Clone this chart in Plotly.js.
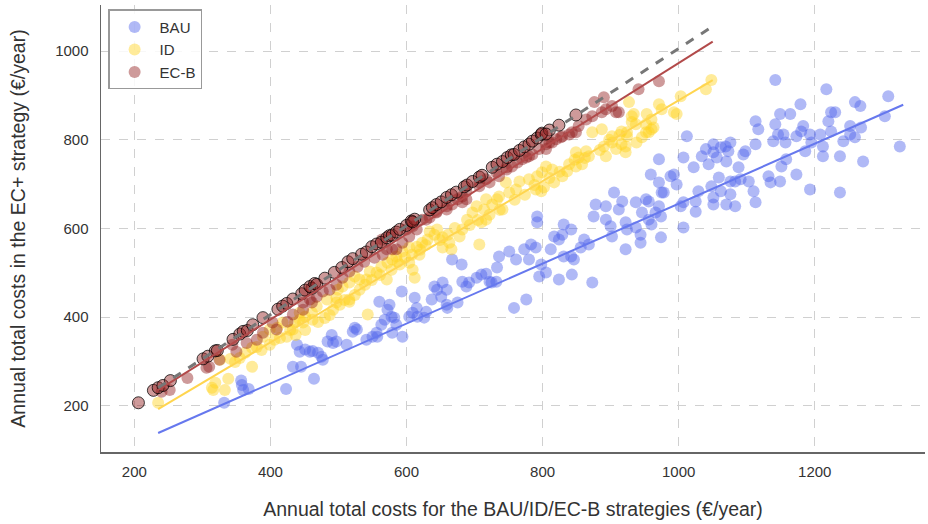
<!DOCTYPE html>
<html>
<head>
<meta charset="utf-8">
<script src="https://cdn.plot.ly/plotly-3.0.1.min.js"></script>
<style>html,body{margin:0;padding:0;background:#fff;}#chart{width:928px;height:524px;}</style>
</head>
<body>
<div id="chart"></div>
<script>
// ---- data ----
const seriesNames = ["BAU", "ID", "EC-B"];

// BAU: [cost under BAU, cost under EC+]
const bauPts = [[332,207],[357,257],[358,247],[360,236],[368,238],[423,238],[433,288],[445,288],[464,261],[439,338],
[443,322],[451,327],[458,322],[462,324],[470,320],[477,304],[475,311],[490,360],[484,345],[492,342],
[497,345],[512,338],[521,367],[527,372],[524,376],[541,349],[550,356],[557,356],[556,365],[560,435],
[575,428],[572,417],[578,401],[568,394],[563,383],[582,399],[585,383],[579,365],[594,356],[593,458],
[612,444],[615,421],[609,410],[604,401],[616,401],[626,399],[629,412],[637,440],[641,469],[645,462],
[653,478],[659,462],[651,446],[659,428],[660,421],[675,433],[667,530],[681,519],[682,480],[688,469],
[692,478],[703,489],[710,496],[717,498],[722,480],[732,480],[733,512],[758,421],[776,440],[725,478],
[736,537],[751,548],[761,530],[773,553],[783,564],[780,530],[790,557],[798,519],[795,492],[805,501],
[812,553],[824,485],[831,537],[831,609],[829,586],[817,582],[824,575],[842,598],[843,496],[842,537],
[846,530],[856,557],[861,575],[868,564],[873,478],[875,627],[878,654],[893,650],[893,620],[900,605],
[902,582],[905,681],[912,643],[917,661],[922,614],[922,553],[924,598],[937,659],[937,602],[944,586],
[944,568],[946,636],[952,666],[956,661],[956,620],[959,722],[960,609],[966,636],[971,650],[971,704],
[975,681],[974,580],[993,722],[997,699],[971,756],[1007,602],[974,627],[978,681],[988,718],[1003,650],
[1007,659],[1025,638],[1025,661],[1029,684],[1007,760],[1022,738],[1012,808],[1034,763],[1040,779],[1044,745],
[1051,790],[1051,772],[1056,760],[1062,783],[1069,785],[1070,751],[1073,774],[1076,794],[1076,706],[1048,695],
[1051,670],[1051,654],[1059,715],[1062,684],[1070,654],[1076,677],[1083,650],[1083,706],[1088,738],[1091,711],
[1095,767],[1098,774],[1103,706],[1110,684],[1113,790],[1113,659],[1113,842],[1117,824],[1132,718],[1135,704],
[1139,797],[1142,835],[1149,858],[1146,812],[1149,706],[1151,740],[1154,812],[1157,794],[1158,756],[1164,858],
[1173,722],[1179,880],[1173,808],[1183,831],[1180,819],[1186,774],[1193,688],[1195,794],[1193,812],[1208,812],
[1212,785],[1212,763],[1217,914],[1220,842],[1224,862],[1230,862],[1224,819],[1237,763],[1237,681],[1242,797],
[1252,831],[1252,812],[1259,806],[1259,885],[1267,876],[1271,751],[1268,828],[1303,853],[1308,898],[1325,785],
[1142,935],[792,627],[792,614]];

// ID
const idPts = [[235,207],[316,236],[333,236],[338,261],[319,252],[314,241],[373,288],[341,306],[348,299],[355,308],
[326,304],[363,320],[373,331],[380,333],[389,356],[399,372],[410,376],[418,388],[424,356],[433,372],
[436,388],[443,394],[451,401],[461,410],[468,424],[443,410],[448,388],[462,394],[492,417],[497,433],
[516,435],[543,406],[483,440],[497,444],[499,462],[516,440],[506,469],[516,478],[524,492],[531,485],
[541,485],[546,503],[556,501],[563,514],[571,485],[572,523],[579,530],[585,537],[590,519],[604,523],
[609,507],[612,489],[594,548],[604,557],[615,559],[619,541],[623,568],[631,575],[634,593],[641,586],
[645,598],[653,580],[653,557],[663,568],[666,553],[678,582],[682,598],[689,620],[697,636],[707,564],
[710,614],[714,643],[717,620],[703,650],[726,654],[733,666],[717,666],[741,643],[736,672],[751,681],
[746,704],[761,688],[766,706],[780,711],[790,688],[798,684],[802,693],[792,718],[799,727],[805,740],
[814,733],[817,704],[829,718],[836,729],[839,745],[849,740],[853,760],[858,745],[849,772],[864,774],
[868,763],[873,817],[887,824],[893,763],[890,785],[902,794],[902,808],[908,779],[916,790],[922,772],
[924,817],[938,794],[931,853],[937,835],[952,817],[960,824],[960,846],[971,880],[993,862],[927,885],
[1048,935],[1040,914],[1003,898],[997,858],[975,869],[953,858],[963,828],[956,817],[952,835],[934,858],
[931,840],[916,819],[924,808],[922,785],[946,806],
[387,326],[399,338],[406,349],[414,353],[429,371],[437,360],[451,371],[470,389],[480,398],[487,405],
[502,428],[509,439],[524,450],[531,462],[539,473],[549,484],[561,495],[578,507],[587,525],[598,534],
[608,541],[620,552],[628,563],[649,574],[661,586],[671,601],[693,608],[705,619],[722,631],[737,642],
[759,665],[774,676],[788,698],[810,714],[825,728],[847,755],[862,759],[884,777],[898,800],[913,811]];

// EC-B (plain markers)
const ecbPts = [[252,236],[278,263],[240,232],[310,288],[306,286],[325,304],[344,338],[350,322],[365,342],[380,349],
[389,365],[403,388],[409,372],[425,390],[433,406],[448,417],[461,433],[468,446],[448,433],[458,440],
[477,458],[487,462],[497,473],[506,489],[516,503],[528,514],[538,525],[553,534],[565,541],[571,553],
[585,553],[594,568],[604,582],[615,598],[623,620],[634,625],[644,636],[659,643],[667,654],[682,659],
[688,666],[707,704],[717,711],[732,727],[747,733],[755,740],[763,749],[776,760],[785,767],[795,779],
[805,779],[810,794],[820,801],[827,806],[839,812],[849,817],[853,831],[864,846],[873,853],[887,862],
[893,869],[908,862],[902,876],[579,553],[564,575],[600,598],[609,605],[629,620],[644,638],[659,650],
[675,666],[682,672],[688,684],[707,695],[722,704],[736,718],[747,738],[770,756],[780,763],[805,790],
[814,794],[829,808],[843,817],[876,885],[890,896],[912,862],[941,914],[971,932]];

// EC-B points lying on the 1:1 line (black edged)
const ecbEdgePts = [[206,207],[228,235],[235,241],[242,246],[253,257],[301,306],[308,312],[319,324],[322,325],[345,350],
[355,362],[360,368],[366,370],[374,383],[389,399],[411,418],[418,425],[424,431],[433,441],[446,453],
[461,465],[451,461],[458,469],[465,476],[468,474],[480,488],[494,501],[505,512],[514,525],[521,532],
[534,542],[541,547],[549,559],[556,565],[563,569],[571,579],[575,584],[579,585],[585,592],[590,598],
[600,607],[607,617],[612,621],[609,615],[634,642],[638,647],[644,654],[651,660],[659,670],[666,676],
[673,682],[685,694],[689,698],[697,706],[707,716],[711,720],[726,738],[733,745],[741,751],[748,760],
[754,766],[758,767],[766,776],[773,784],[780,790],[785,797],[792,804],[798,812],[799,815],[810,822],
[805,813],[824,833],[849,856]];

// fitted lines (slope, intercept, x-span) for BAU, ID, EC-B, and the reference line
const fitSlopes = [0.676, 0.91, 0.964, 1.0];
const fitIntercepts = [-20, -21, 9, 6];
const fitStarts = [235, 235, 235, 235];
const fitEnds = [1330, 1050, 1050, 1050];

const xTicks = [200, 400, 600, 800, 1000, 1200];
const yTicks = [200, 400, 600, 800, 1000];

// ---- styles ----
const markerColors = ["#4f63ea", "#ffd21f", "#931f1f"];
const lineColors = ["#6678ee", "#ffd54f", "#b24a4a", "#777777"];

const xs = p => p.map(d => d[0]);
const ys = p => p.map(d => d[1]);

const traces = [];
const ptsList = [bauPts, idPts, ecbPts];
for (let i = 0; i < 3; i++) {
  traces.push({
    type: "scatter", mode: "markers", name: seriesNames[i],
    x: xs(ptsList[i]), y: ys(ptsList[i]),
    marker: {color: markerColors[i], size: 12, opacity: 0.45, line: {width: 0}},
    hoverinfo: "skip"
  });
}
traces.push({
  type: "scatter", mode: "markers", name: "EC-B", showlegend: false,
  x: xs(ecbEdgePts), y: ys(ecbEdgePts),
  marker: {color: "rgba(147,31,31,0.45)", size: 12, line: {width: 1, color: "rgba(0,0,0,0.75)"}},
  hoverinfo: "skip"
});
for (let i = 0; i < 4; i++) {
  const xa = [fitStarts[i], fitEnds[i]];
  traces.push({
    type: "scatter", mode: "lines", showlegend: false,
    x: xa, y: xa.map(v => fitSlopes[i] * v + fitIntercepts[i]),
    line: {color: lineColors[i], width: i === 3 ? 3 : 2, dash: i === 3 ? "dash" : "solid"},
    hoverinfo: "skip"
  });
}

const font = "Liberation Sans, Arial, sans-serif";
const layout = {
  width: 928, height: 524,
  margin: {l: 101, r: 3, t: 5, b: 72},
  paper_bgcolor: "#fff", plot_bgcolor: "#fff",
  font: {family: font, size: 15, color: "#333"},
  showlegend: true,
  legend: {
    x: 0.009, y: 0.99, xanchor: "left", yanchor: "top",
    bgcolor: "rgba(255,255,255,0.85)", bordercolor: "#999", borderwidth: 1.2,
    font: {family: font, size: 15, color: "#333"}, itemwidth: 40, tracegroupgap: 0
  },
  xaxis: {
    range: [151, 1362], tickvals: xTicks, ticktext: xTicks.map(String),
    showgrid: true, gridcolor: "#d0d0d0", griddash: "dash", gridwidth: 1,
    showline: true, linecolor: "#666", linewidth: 1.5, zeroline: false, ticks: "",
    ticklabelstandoff: 5,
    tickfont: {family: font, size: 15, color: "#333"},
    title: {text: "Annual total costs for the BAU/ID/EC-B strategies (€/year)", font: {family: font, size: 19.5, color: "#333"}, standoff: 24}
  },
  yaxis: {
    range: [96, 1104], tickvals: yTicks, ticktext: yTicks.map(String),
    showgrid: true, gridcolor: "#d0d0d0", griddash: "dash", gridwidth: 1,
    showline: true, linecolor: "#666", linewidth: 1.5, zeroline: false, ticks: "",
    ticklabelstandoff: 8,
    tickfont: {family: font, size: 15, color: "#333"},
    title: {text: "Annual total costs in the EC+ strategy (€/year)", font: {family: font, size: 19.5, color: "#333"}, standoff: 24}
  }
};

Plotly.newPlot("chart", traces, layout, {staticPlot: true, displayModeBar: false});
</script>
</body>
</html>
